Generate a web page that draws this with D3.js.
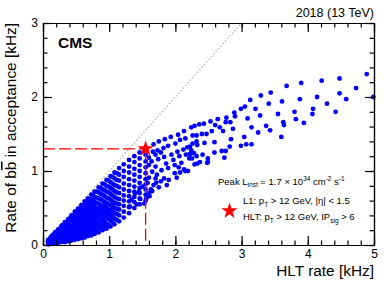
<!DOCTYPE html>
<html>
<head>
<meta charset="utf-8">
<script src="https://cdn.jsdelivr.net/npm/d3@7"></script>
<style>
  body { margin: 0; background: #fff; }
  svg text { font-family: "Liberation Sans", Arial, sans-serif; fill: #000; }
</style>
</head>
<body>
<div id="chart"></div>
<script>
// axis ticks
const xTicks = [0, 1, 2, 3, 4, 5];
const yTicks = [0, 1, 2, 3];

// dense region near the origin: x positions shared by the strands
const blobX = [0.08, 0.13, 0.18, 0.23, 0.28, 0.33, 0.38, 0.43, 0.48, 0.53, 0.58, 0.63, 0.68,
               0.73, 0.78, 0.84, 0.90, 0.96, 1.02, 1.08, 1.15, 1.22, 1.30, 1.38, 1.46, 1.55];
// each strand: bb rate at the blobX positions
const strand1  = [.07,.12,.17,.21,.26,.31,.35,.40,.45,.49,.54,.59,.63,.68,.72,.78,.83,.88,.93,.98,1.04,1.09,1.15,1.20,1.25,1.30];
const strand2  = [.06,.11,.15,.19,.23,.28,.31,.36,.40,.44,.49,.53,.57,.61,.65,.71,.75,.80,.85,.90,.95,1.00,1.06,1.12,1.17,1.22];
const strand3  = [.06,.10,.13,.17,.21,.25,.28,.32,.36,.39,.43,.47,.51,.55,.58,.63,.68,.72,.77,.81,.87,.92,.98,1.03,1.08,1.13];
const strand4  = [.05,.08,.12,.15,.18,.21,.24,.28,.31,.34,.38,.41,.45,.48,.52,.56,.60,.64,.69,.73,.78,.83,.89,.95,1.00,1.05];
const strand5  = [.04,.07,.10,.13,.15,.18,.21,.24,.27,.30,.33,.36,.39,.42,.45,.49,.53,.57,.61,.65,.70,.75,.81,.87,.92,.97];
const strand6  = [.04,.06,.08,.11,.13,.15,.18,.20,.23,.25,.28,.31,.33,.36,.39,.43,.47,.50,.54,.57,.62,.67,.73,.79,.84,.89];
const strand7  = [.03,.05,.07,.09,.11,.13,.15,.17,.19,.21,.23,.26,.28,.31,.33,.37,.40,.43,.47,.50,.55,.60,.66,.72,.77,.82];
const strand8  = [.02,.04,.05,.07,.09,.10,.12,.14,.15,.17,.19,.21,.23,.25,.28,.30,.34,.37,.40,.43,.48,.53,.59,.65,.70,.75];
const strand9  = [.02,.03,.04,.05,.06,.07,.08,.10,.11,.13,.14,.15,.18,.19,.21,.24,.27,.29,.33,.36,.40,.45,.51,.58,.63,.68];
const strand10 = [.01,.02,.02,.03,.04,.04,.05,.06,.07,.08,.09,.10,.12,.13,.15,.17,.20,.22,.25,.28,.32,.37,.43,.50,.55,.60];

// second set of strands, lying between the first ones, at shifted x positions
const blobXb = [.105,.155,.205,.255,.305,.355,.405,.455,.505,.555,.605,.655,.705,.755,.81,.87,.93,.99,1.05,1.115];
const fill1 = [.09,.14,.18,.22,.27,.31,.36,.40,.45,.49,.54,.58,.62,.67,.72,.77,.82,.87,.92,.97];
const fill2 = [.08,.12,.16,.20,.24,.28,.32,.36,.40,.44,.48,.52,.56,.60,.64,.69,.74,.79,.83,.88];
const fill3 = [.07,.11,.14,.18,.21,.25,.28,.32,.35,.39,.42,.46,.50,.53,.57,.62,.66,.71,.75,.80];
const fill4 = [.06,.09,.12,.15,.18,.21,.24,.27,.30,.34,.37,.40,.43,.47,.50,.54,.58,.63,.67,.71];
const fill5 = [.05,.08,.10,.13,.15,.18,.21,.23,.26,.29,.32,.35,.38,.40,.44,.48,.52,.55,.59,.63];
const fill6 = [.04,.06,.09,.11,.13,.15,.17,.20,.22,.24,.27,.29,.32,.35,.38,.42,.45,.48,.52,.56];
const fill7 = [.03,.05,.07,.09,.11,.12,.14,.16,.18,.20,.22,.24,.27,.29,.32,.35,.38,.42,.45,.49];
const fill8 = [.03,.04,.05,.07,.08,.09,.11,.12,.14,.16,.17,.19,.21,.23,.26,.29,.32,.35,.38,.42];
const fill9 = [.02,.03,.035,.045,.05,.06,.07,.085,.10,.11,.12,.14,.155,.17,.19,.22,.245,.27,.31,.34];

// middle region points [HLT rate, bb rate]
const midPts = [
  [2.13,1.54],[2.04,1.49],[1.93,1.46],[1.84,1.43],[1.75,1.40],[1.67,1.36],
  [2.15,1.44],[2.07,1.42],[2.00,1.37],[1.89,1.34],[1.82,1.31],[1.73,1.28],[1.66,1.26],
  [2.33,1.35],[2.12,1.29],[2.03,1.26],[1.94,1.22],[1.83,1.19],[1.74,1.16],[1.64,1.13],
  [2.28,1.24],[2.33,1.10],[2.21,1.17],[2.09,1.11],[1.99,1.08],[1.89,1.04],[1.79,1.01],[1.65,0.99],
  [2.13,1.02],[1.99,0.97],[1.83,0.90],[1.90,0.88],[1.65,0.73],[1.39,0.70],[1.50,0.79],[1.56,0.63],[1.34,0.61],
  [2.02,0.91],[1.87,0.81],[1.78,0.86],[1.71,0.84],[1.67,0.81],[1.63,0.75],[1.53,0.56],[1.42,0.55],[1.31,0.52],
  [2.07,0.98],[2.19,1.00],[2.15,1.00],
  [1.60,1.18],[1.70,1.22],[1.78,1.25],[1.60,1.08],[1.70,1.06],[1.72,0.95],[1.60,0.91],[1.58,0.84],
  [1.70,0.90],[1.60,0.70],[1.75,0.78],[1.47,0.62],[1.61,0.66],[1.45,0.72],[2.18,1.32],[2.24,1.28],
  [2.06,1.20],[2.16,1.22],[1.97,1.15],[1.86,1.10],[2.05,1.05]
];
// outer region points
const farPts = [
  [3.68,2.15],[3.90,2.19],[4.21,2.22],[4.48,2.25],[4.89,2.31],
  [3.61,1.94],[3.88,1.97],[4.14,2.00],[4.48,2.05],[4.73,2.12],[4.99,2.00],
  [4.29,1.91],[4.58,1.97],[3.80,1.80],[4.08,1.84],[4.07,1.77],[4.42,1.80],
  [3.82,1.70],[3.63,1.66],[3.64,1.62],[3.94,1.65],[3.60,1.46],
  [3.44,2.06],[3.29,2.02],[3.13,1.96],[3.41,1.91],[3.05,1.87],[2.99,1.84],[3.21,1.84],[2.89,1.79],
  [2.90,1.74],[3.28,1.75],[3.55,1.77],[3.09,1.71],[2.77,1.72],[2.64,1.70],[2.53,1.67],[2.43,1.64],
  [2.36,1.63],[2.29,1.61],[2.24,1.59],
  [2.83,1.66],[2.76,1.66],[2.67,1.59],[2.60,1.62],[2.55,1.54],[2.47,1.50],[2.40,1.50],[2.32,1.48],
  [2.26,1.48],[2.72,1.54],[2.87,1.57],[3.15,1.59],[3.37,1.61],[3.25,1.52],[3.43,1.55],
  [2.84,1.43],[3.04,1.46],[3.07,1.36],[3.15,1.36],[2.99,1.34],[2.59,1.39],[2.44,1.38],[2.32,1.40],
  [2.26,1.37],[2.82,1.33],[2.76,1.27],[2.70,1.27],[2.59,1.25],[2.74,1.18],[2.49,1.17],[2.49,1.12],
  [2.37,1.12],[2.29,1.09],[2.25,1.17],[2.22,1.33],[2.22,1.23],[2.41,1.22],[2.32,1.20],[2.48,1.11]
];
// chosen working point
const starPt = [1.55, 1.30];

var W = 390, H = 282;
var plot = { left: 43, right: 374, top: 23, bottom: 245 };

var svg = d3.select("#chart").append("svg")
    .attr("width", W).attr("height", H);

var x = d3.scaleLinear().domain([0, 5]).range([plot.left, plot.right]);
var y = d3.scaleLinear().domain([0, 3]).range([plot.bottom, plot.top]);

// y = x reference line
svg.append("line")
    .attr("x1", x(0)).attr("y1", y(0))
    .attr("x2", x(3)).attr("y2", y(3))
    .attr("stroke", "#b4b4b4").attr("stroke-width", 1.3)
    .attr("stroke-dasharray", "1.5,2");

// collect all points
var allPts = [];
[strand1, strand2, strand3, strand4, strand5, strand6, strand7, strand8, strand9, strand10]
    .forEach(function (s) {
        s.forEach(function (v, i) { allPts.push([blobX[i], v]); });
    });
[fill1, fill2, fill3, fill4, fill5, fill6, fill7, fill8, fill9]
    .forEach(function (s) {
        s.forEach(function (v, i) { allPts.push([blobXb[i], v]); });
    });
allPts = allPts.concat(midPts, farPts);

svg.append("g").selectAll("circle")
    .data(allPts)
    .enter()
    .append("circle")
    .attr("cx", function (d) { return x(d[0]); })
    .attr("cy", function (d) { return y(d[1]); })
    .attr("r", 2.4)
    .attr("fill", "#0000ff");

// red dashed guides
svg.append("line")
    .attr("x1", x(0)).attr("y1", y(starPt[1]))
    .attr("x2", x(starPt[0])).attr("y2", y(starPt[1]))
    .attr("stroke", "#ff0000").attr("stroke-width", 1.3)
    .attr("stroke-dasharray", "12,4");
svg.append("line")
    .attr("x1", x(starPt[0])).attr("y1", y(starPt[1]))
    .attr("x2", x(starPt[0])).attr("y2", y(0))
    .attr("stroke", "#ff0000").attr("stroke-width", 1.3)
    .attr("stroke-dasharray", "12,4");

var star = d3.symbol().type(d3.symbolStar).size(82);
svg.append("path")
    .attr("d", star)
    .attr("transform", "translate(" + x(starPt[0]) + "," + y(starPt[1]) + ")")
    .attr("fill", "#ff0000");

// axes (ROOT style: ticks inside on all sides)
function styleAxis(g) {
    g.selectAll("path, line").attr("stroke", "#000").attr("stroke-width", 1.2);
    g.selectAll("text").attr("font-size", "12px").attr("fill", "#000")
        .style("font-family", "'Liberation Sans', Arial, sans-serif");
}
var xMinor = x.ticks(25), yMinor = y.ticks(15);
var fmt = d3.format("d");

svg.append("g").attr("transform", "translate(0," + plot.bottom + ")")
    .call(d3.axisBottom(x).tickValues(xTicks).tickSize(-9).tickSizeOuter(0).tickPadding(4).tickFormat(fmt))
    .call(styleAxis);
svg.append("g").attr("transform", "translate(0," + plot.bottom + ")")
    .call(d3.axisBottom(x).tickValues(xMinor).tickSize(-4.5).tickSizeOuter(0).tickFormat(""))
    .call(styleAxis);
svg.append("g").attr("transform", "translate(0," + plot.top + ")")
    .call(d3.axisTop(x).tickValues(xTicks).tickSize(-9).tickSizeOuter(0).tickFormat(""))
    .call(styleAxis);
svg.append("g").attr("transform", "translate(0," + plot.top + ")")
    .call(d3.axisTop(x).tickValues(xMinor).tickSize(-4.5).tickSizeOuter(0).tickFormat(""))
    .call(styleAxis);

svg.append("g").attr("transform", "translate(" + plot.left + ",0)")
    .call(d3.axisLeft(y).tickValues(yTicks).tickSize(-9).tickSizeOuter(0).tickPadding(5).tickFormat(fmt))
    .call(styleAxis);
svg.append("g").attr("transform", "translate(" + plot.left + ",0)")
    .call(d3.axisLeft(y).tickValues(yMinor).tickSize(-4.5).tickSizeOuter(0).tickFormat(""))
    .call(styleAxis);
svg.append("g").attr("transform", "translate(" + plot.right + ",0)")
    .call(d3.axisRight(y).tickValues(yTicks).tickSize(-9).tickSizeOuter(0).tickFormat(""))
    .call(styleAxis);
svg.append("g").attr("transform", "translate(" + plot.right + ",0)")
    .call(d3.axisRight(y).tickValues(yMinor).tickSize(-4.5).tickSizeOuter(0).tickFormat(""))
    .call(styleAxis);

// axis titles
svg.append("text")
    .attr("x", plot.right).attr("y", 276)
    .attr("text-anchor", "end").attr("font-size", "15.4px")
    .text("HLT rate [kHz]");

var yt = svg.append("text")
    .attr("transform", "translate(16," + plot.top + ") rotate(-90)")
    .attr("text-anchor", "end").attr("font-size", "15.4px");
yt.append("tspan").text("Rate of b");
yt.append("tspan").style("text-decoration", "overline").text("b");
yt.append("tspan").text(" in acceptance [kHz]");

// labels
svg.append("text")
    .attr("x", plot.right).attr("y", 17)
    .attr("text-anchor", "end").attr("font-size", "12.5px")
    .text("2018 (13 TeV)");
svg.append("text")
    .attr("x", 58).attr("y", 48)
    .attr("font-size", "15.5px").attr("font-weight", "bold")
    .text("CMS");

// legend
var fs = 9.5, fsSmall = 6.5;
var l1 = svg.append("text").attr("x", 218).attr("y", 185).attr("font-size", fs + "px");
l1.append("tspan").text("Peak L");
l1.append("tspan").attr("dy", 2).attr("font-size", fsSmall + "px").text("inst");
l1.append("tspan").attr("dy", -2).text(" = 1.7 \u00d7 10");
l1.append("tspan").attr("dy", -4).attr("font-size", fsSmall + "px").text("34");
l1.append("tspan").attr("dy", 4).text(" cm");
l1.append("tspan").attr("dy", -4).attr("font-size", fsSmall + "px").text("-2");
l1.append("tspan").attr("dy", 4).text(" s");
l1.append("tspan").attr("dy", -4).attr("font-size", fsSmall + "px").text("-1");

var l2 = svg.append("text").attr("x", 243).attr("y", 204).attr("font-size", fs + "px");
l2.append("tspan").text("L1: p");
l2.append("tspan").attr("dy", 2.5).attr("font-size", fsSmall + "px").text("T");
l2.append("tspan").attr("dy", -2.5).text(" > 12 GeV, |\u03b7| < 1.5");

var l3 = svg.append("text").attr("x", 243).attr("y", 220).attr("font-size", fs + "px");
l3.append("tspan").text("HLT: p");
l3.append("tspan").attr("dy", 2.5).attr("font-size", fsSmall + "px").text("T");
l3.append("tspan").attr("dy", -2.5).text(" > 12 GeV, IP");
l3.append("tspan").attr("dy", 2.5).attr("font-size", fsSmall + "px").text("sig");
l3.append("tspan").attr("dy", -2.5).text(" > 6");

svg.append("path")
    .attr("d", star)
    .attr("transform", "translate(229.5,211)")
    .attr("fill", "#ff0000");
</script>
</body>
</html>
